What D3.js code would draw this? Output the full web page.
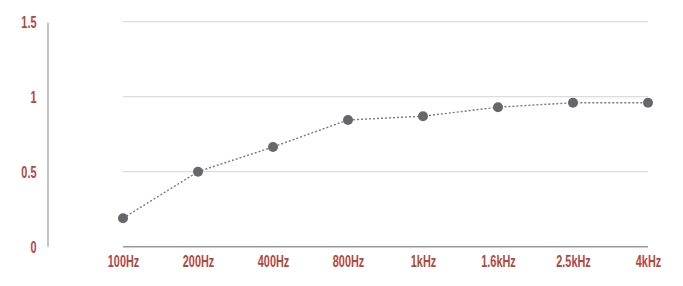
<!DOCTYPE html>
<html><head><meta charset="utf-8">
<script src="https://cdn.jsdelivr.net/npm/d3@7"></script>
<style>
html,body{margin:0;padding:0;background:#fff;}
svg{display:block;}
</style></head>
<body>
<svg id="c" width="683" height="286"></svg>
<script>
const categories = ["100Hz","200Hz","400Hz","800Hz","1kHz","1.6kHz","2.5kHz","4kHz"];
const values = [0.19, 0.50, 0.665, 0.845, 0.87, 0.93, 0.96, 0.96];
const yTicks = [0, 0.5, 1, 1.5];
const yTickLabels = ["0","0.5","1","1.5"];

const FONT = '"Liberation Sans","Arial",sans-serif';
const RED = "#b5463d";

const svg = d3.select("#c");
const x = d3.scalePoint().domain(categories).range([123, 648]);
const y = d3.scaleLinear().domain([0, 1.5]).range([246.7, 21.7]);

// gridlines
svg.append("g").selectAll("line").data(yTicks).join("line")
  .attr("x1", x.range()[0]).attr("x2", x.range()[1])
  .attr("y1", d => y(d)).attr("y2", d => y(d))
  .attr("stroke", d => d === 0 ? "#9a9a9a" : "#dcdcdc")
  .attr("stroke-width", d => d === 0 ? 1.6 : 1.2);

// vertical axis line
svg.append("line")
  .attr("x1", 48).attr("x2", 48)
  .attr("y1", y(1.5) + 1).attr("y2", y(0))
  .attr("stroke", "#b5b5b5").attr("stroke-width", 1.6);

function styleText(sel){
  sel.attr("font-size", 16.5).attr("dy","0.35em")
    .style("font-family", FONT).style("font-weight","bold").attr("fill", RED)
    .attr("transform", "scale(0.66,1)");
}

// y labels
const yAxis = d3.axisLeft(y).tickValues(yTicks).tickFormat((d,i) => yTickLabels[i]).tickSize(0).tickPadding(0);
const yg = svg.append("g").attr("transform", "translate(36.5,0)").call(yAxis);
yg.select(".domain").remove();
yg.selectAll("text").attr("x", 0).call(styleText);

// x labels
const xAxis = d3.axisBottom(x).tickSize(0).tickPadding(0);
const xg = svg.append("g").attr("transform", "translate(0,261.5)").call(xAxis);
xg.select(".domain").remove();
xg.selectAll("text").attr("y", 0).call(styleText);

// line
const line = d3.line().x((d,i) => x(categories[i])).y(d => y(d));
svg.append("path").datum(values).attr("d", line)
  .attr("fill","none").attr("stroke","#7a7a7a").attr("stroke-width",1.4).attr("stroke-dasharray","2,2");

// points
svg.append("g").selectAll("circle").data(values).join("circle")
  .attr("cx",(d,i) => x(categories[i])).attr("cy", d => y(d)).attr("r", 5)
  .attr("fill","#65676a");
</script>
</body></html>
